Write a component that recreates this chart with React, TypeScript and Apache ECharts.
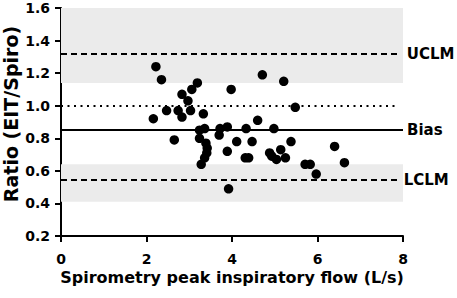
import React, { useEffect, useRef } from "react";
import * as echarts from "echarts";

const flow: number[] = [
  2.22, 2.35, 3.19, 3.06, 2.83, 2.97, 2.47, 2.74, 3.03, 2.16, 2.83, 3.33,
  2.65, 3.36, 3.24, 3.24, 3.39, 3.41, 3.36, 3.28, 3.42, 3.72, 3.70, 3.89,
  3.89, 3.92, 3.98, 4.71, 5.21, 5.48, 4.60, 4.33, 4.98, 4.11, 4.47, 5.38,
  4.31, 4.39, 4.88, 5.14, 4.93, 5.04, 5.25, 6.40, 6.63, 5.71, 5.83, 5.97,
];
const ratio: number[] = [
  1.24, 1.16, 1.14, 1.10, 1.07, 1.03, 0.97, 0.97, 0.97, 0.92, 0.93, 0.95,
  0.79, 0.86, 0.85, 0.80, 0.77, 0.71, 0.68, 0.64, 0.74, 0.86, 0.82, 0.87,
  0.72, 0.49, 1.10, 1.19, 1.15, 0.99, 0.91, 0.86, 0.86, 0.78, 0.78, 0.78,
  0.68, 0.68, 0.71, 0.73, 0.69, 0.67, 0.68, 0.75, 0.65, 0.64, 0.64, 0.58,
];

const bias = 0.85;
const uclm = 1.32;
const lclm = 0.545;
const unity = 1.0;
const upperBand: [number, number] = [1.14, 1.6];
const lowerBand: [number, number] = [0.41, 0.64];

const xTicks = [0, 8, 2];
const yTicks = [0.2, 1.6, 0.2];

const xTitle = "Spirometry peak inspiratory flow (L/s)";
const yTitle = "Ratio (EIT/Spiro)";

const FONT = "'DejaVu Sans', sans-serif";

export default function App() {
  const ref = useRef<HTMLDivElement>(null);
  useEffect(() => {
    document.body.style.margin = "0";
    const chart = echarts.init(ref.current!, null, { renderer: "svg" });
    const points = flow.map((x, i) => [x, ratio[i]]);
    const lblStyle = {
      show: true,
      position: "end",
      color: "#000",
      fontWeight: "bold",
      fontSize: 15,
      fontFamily: FONT,
    };
    chart.setOption({
      animation: false,
      backgroundColor: "#fff",
      textStyle: { fontFamily: FONT },
      grid: { left: 61, right: 54, top: 8, bottom: 62, containLabel: false, outerBoundsMode: "none" },
      graphic: [
        {
          type: "text",
          x: 11,
          y: 114,
          rotation: Math.PI / 2,
          style: {
            text: yTitle,
            fill: "#000",
            font: `bold 19px ${FONT}`,
            textAlign: "center",
            textVerticalAlign: "middle",
          },
        },
      ],
      xAxis: {
        type: "value",
        min: xTicks[0],
        max: xTicks[1],
        interval: xTicks[2],
        name: xTitle,
        nameLocation: "middle",
        nameGap: 33,
        nameMoveOverlap: false,
        nameTextStyle: { color: "#000", fontWeight: "bold", fontSize: 16, fontFamily: FONT },
        axisLine: { onZero: false, lineStyle: { color: "#000", width: 2 } },
        axisTick: { show: true, length: 6, lineStyle: { color: "#000", width: 2 } },
        axisLabel: { color: "#000", fontWeight: "bold", fontSize: 14, margin: 16, fontFamily: FONT },
        splitLine: { show: false },
      },
      yAxis: {
        type: "value",
        min: yTicks[0],
        max: yTicks[1],
        interval: yTicks[2],
        axisLine: { show: true, onZero: false, lineStyle: { color: "#000", width: 2 } },
        axisTick: { show: true, length: 6, lineStyle: { color: "#000", width: 2 } },
        axisLabel: {
          color: "#000",
          fontWeight: "bold",
          fontSize: 14,
          margin: 11,
          fontFamily: FONT,
          formatter: (v: number) => v.toFixed(1),
        },
        splitLine: { show: false },
      },
      series: [
        {
          type: "scatter",
          data: [],
          z: 1,
          silent: true,
          markArea: {
            silent: true,
            itemStyle: { color: "#ebebeb" },
            data: [
              [{ coord: [xTicks[0], upperBand[0]] }, { coord: [xTicks[1], upperBand[1]] }],
              [{ coord: [xTicks[0], lowerBand[0]] }, { coord: [xTicks[1], lowerBand[1]] }],
            ],
          },
        },
        {
          type: "scatter",
          data: [],
          z: 2,
          silent: true,
          markLine: {
            silent: true,
            symbol: ["none", "none"],
            data: [
              [
                { coord: [xTicks[0], uclm], lineStyle: { type: [6, 4], width: 2, color: "#000" }, label: { ...lblStyle, formatter: "UCLM", distance: 8 } },
                { coord: [7.9, uclm] },
              ],
              [
                { coord: [xTicks[0], unity], lineStyle: { type: [2, 4.5], width: 2, color: "#000" }, label: { show: false } },
                { coord: [7.9, unity] },
              ],
              [
                { coord: [xTicks[0], bias], lineStyle: { type: "solid", width: 2, color: "#000" }, label: { ...lblStyle, formatter: "Bias", distance: 4 } },
                { coord: [xTicks[1], bias] },
              ],
              [
                { coord: [xTicks[0], lclm], lineStyle: { type: [6, 4], width: 2, color: "#000" }, label: { ...lblStyle, formatter: "LCLM", distance: 5 } },
                { coord: [7.9, lclm] },
              ],
            ],
          },
        },
        {
          type: "scatter",
          z: 3,
          symbol: "circle",
          symbolSize: 9.5,
          itemStyle: { color: "#000", opacity: 1 },
          data: points,
        },
      ],
    });
    return () => chart.dispose();
  }, []);
  return <div ref={ref} style={{ width: 457, height: 298, position: "absolute", left: 0, top: 0 }} />;
}
